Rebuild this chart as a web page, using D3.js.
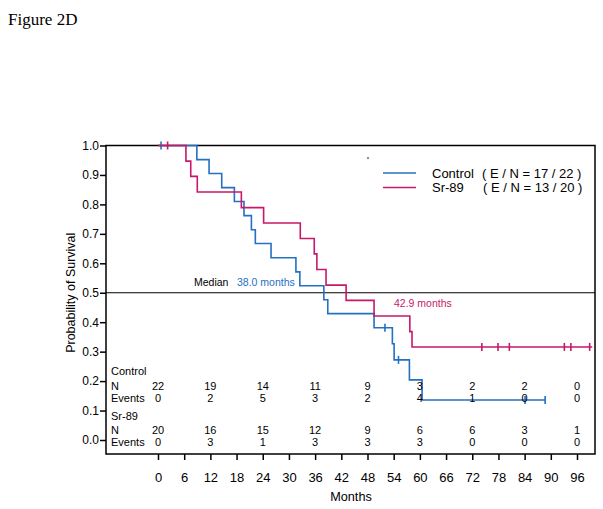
<!DOCTYPE html>
<html>
<head>
<meta charset="utf-8">
<script src="https://cdn.jsdelivr.net/npm/d3@7"></script>
<style>
body { margin: 0; background: #fff; }
text { font-family: "Liberation Sans", Arial, sans-serif; }
</style>
</head>
<body>
<script>
// Kaplan-Meier steps: [month, survival]
var controlSteps = [[0, 1], [8.9, 0.952], [11.7, 0.905], [14.6, 0.857], [17.5, 0.810], [19.7, 0.762],
	[21.4, 0.714], [22.3, 0.667], [25.9, 0.619], [31.6, 0.571], [32.5, 0.524], [38.0, 0.476],
	[38.9, 0.429], [49.5, 0.381], [53.7, 0.327], [54.1, 0.272], [57.6, 0.204], [60.5, 0.136]];
var controlEnd = 88.7;
var controlCensor = [0.7, 52.0, 55.1, 84.1, 88.7];

var srSteps = [[0, 1], [6.4, 0.947], [7.5, 0.895], [9.0, 0.842], [19.1, 0.789], [24.2, 0.737],
	[32.6, 0.684], [35.8, 0.632], [36.4, 0.579], [38.5, 0.526], [43.1, 0.474], [49.5, 0.421],
	[57.7, 0.368], [58.2, 0.316]];
var srEnd = 99.5;
var srCensor = [2.2, 74.2, 77.9, 80.5, 93.1, 94.6, 98.9];

var xTicks = [0, 6, 12, 18, 24, 30, 36, 42, 48, 54, 60, 66, 72, 78, 84, 90, 96];
var yTicks = [0, 0.1, 0.2, 0.3, 0.4, 0.5, 0.6, 0.7, 0.8, 0.9, 1.0];

// numbers at risk table
var tableTimes = [0, 12, 24, 36, 48, 60, 72, 84, 96];
var controlN = [22, 19, 14, 11, 9, 3, 2, 2, 0];
var controlEvents = [0, 2, 5, 3, 2, 4, 1, 0, 0];
var srN = [20, 16, 15, 12, 9, 6, 6, 3, 1];
var srEvents = [0, 3, 1, 3, 3, 3, 0, 0, 0];

var blue = "#2470c4";
var red = "#c8186a";

var width = 603, height = 509;
var svg = d3.select("body").append("svg")
	.attr("width", width)
	.attr("height", height);

var x = d3.scaleLinear().domain([0, 96]).range([158, 577]);
var y = d3.scaleLinear().domain([0, 1]).range([440, 145.5]);
var box = {left: 106, right: 595, top: y(1), bottom: 454};

svg.append("text")
	.attr("x", 8)
	.attr("y", 25)
	.style("font-family", "'Liberation Serif', 'Times New Roman', serif")
	.style("font-size", "17px")
	.text("Figure 2D");

// frame
svg.append("rect")
	.attr("x", box.left)
	.attr("y", box.top)
	.attr("width", box.right - box.left)
	.attr("height", box.bottom - box.top)
	.attr("fill", "none")
	.attr("stroke", "black")
	.attr("stroke-width", 1.5);

// y axis
var yAxis = svg.append("g")
	.attr("transform", "translate(" + box.left + ",0)")
	.call(d3.axisLeft(y).tickValues(yTicks).tickFormat(d3.format(".1f")).tickSize(6).tickSizeOuter(0));
yAxis.select(".domain").remove();
yAxis.selectAll("line").attr("stroke-width", 1.5);
yAxis.selectAll("text").style("font-size", "12px").attr("x", -7).attr("fill", "black");

// x axis
var xAxis = svg.append("g")
	.attr("transform", "translate(0," + box.bottom + ")")
	.call(d3.axisBottom(x).tickValues(xTicks).tickSize(6).tickSizeOuter(0));
xAxis.select(".domain").remove();
xAxis.selectAll("line").attr("stroke-width", 1.5);
xAxis.selectAll("text").style("font-size", "13px").attr("y", 19).attr("fill", "black");

svg.append("text")
	.attr("x", 351)
	.attr("y", 501)
	.attr("text-anchor", "middle")
	.style("font-size", "12.7px")
	.text("Months");

svg.append("text")
	.attr("transform", "translate(75," + y(0.5) + ") rotate(-90)")
	.attr("text-anchor", "middle")
	.style("font-size", "12.5px")
	.text("Probability of Survival");

// median line
svg.append("line")
	.attr("x1", box.left).attr("x2", box.right)
	.attr("y1", y(0.5)).attr("y2", y(0.5))
	.attr("stroke", "black")
	.attr("stroke-width", 1);

svg.append("text").attr("x", 194).attr("y", 286).style("font-size", "10.5px").text("Median");
svg.append("text").attr("x", 237).attr("y", 286).attr("fill", blue).style("font-size", "10.5px").text("38.0 months");
svg.append("text").attr("x", 394).attr("y", 307).attr("fill", red).style("font-size", "10.5px").text("42.9 months");

function survAt(steps, t) {
	var s = 1;
	for (var i = 0; i < steps.length; i++) {
		if (steps[i][0] <= t) s = steps[i][1];
	}
	return s;
}

function drawCurve(steps, end, censor, color) {
	var pts = steps.slice();
	pts.push([end, steps[steps.length - 1][1]]);
	var line = d3.line()
		.x(function(d) { return x(d[0]); })
		.y(function(d) { return y(d[1]); })
		.curve(d3.curveStepAfter);
	svg.append("path")
		.attr("d", line(pts))
		.attr("fill", "none")
		.attr("stroke", color)
		.attr("stroke-width", 1.6);
	svg.selectAll(null)
		.data(censor)
		.enter()
		.append("line")
		.attr("x1", function(d) { return x(d); })
		.attr("x2", function(d) { return x(d); })
		.attr("y1", function(d) { return y(survAt(steps, d)) - 4; })
		.attr("y2", function(d) { return y(survAt(steps, d)) + 4; })
		.attr("stroke", color)
		.attr("stroke-width", 1.6);
}

drawCurve(controlSteps, controlEnd, controlCensor, blue);
drawCurve(srSteps, srEnd, srCensor, red);

// legend
svg.append("circle").attr("cx", 368).attr("cy", 158).attr("r", 0.8).attr("fill", "black");
var legend = [
	{name: "Control", en: "( E / N = 17 / 22 )", color: blue, y: 173, ex: 482},
	{name: "Sr-89", en: "( E / N = 13 / 20 )", color: red, y: 187.5, ex: 483}
];
legend.forEach(function(d) {
	svg.append("line")
		.attr("x1", 383).attr("x2", 416)
		.attr("y1", d.y).attr("y2", d.y)
		.attr("stroke", d.color)
		.attr("stroke-width", 1.6);
	svg.append("text").attr("x", 432).attr("y", d.y + 4.5).style("font-size", "13px").text(d.name);
	svg.append("text").attr("x", d.ex).attr("y", d.y + 4.5).style("font-size", "13px").text(d.en);
});

// numbers at risk
var rows = [
	{label: "Control", y: 375, vals: null},
	{label: "N", y: 390, vals: controlN},
	{label: "Events", y: 401.5, vals: controlEvents},
	{label: "Sr-89", y: 419.5, vals: null},
	{label: "N", y: 434, vals: srN},
	{label: "Events", y: 445.5, vals: srEvents}
];
rows.forEach(function(r) {
	svg.append("text").attr("x", 111).attr("y", r.y).style("font-size", "11px").text(r.label);
	if (r.vals) {
		svg.selectAll(null)
			.data(r.vals)
			.enter()
			.append("text")
			.attr("x", function(d, i) { return x(tableTimes[i]); })
			.attr("y", r.y)
			.attr("text-anchor", "middle")
			.style("font-size", "11px")
			.text(function(d) { return d; });
	}
});
</script>
</body>
</html>
